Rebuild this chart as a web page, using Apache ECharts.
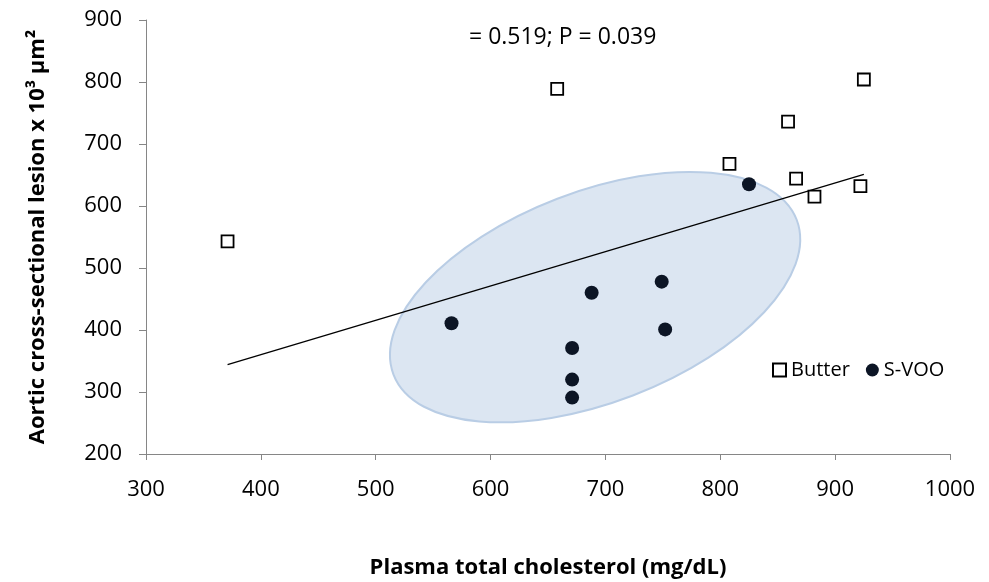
<!DOCTYPE html>
<html>
<head>
<meta charset="utf-8">
<script src="https://cdn.jsdelivr.net/npm/echarts@6/dist/echarts.min.js"></script>
<style>
  html, body { margin: 0; padding: 0; background: #fff; }
  #chart { width: 989px; height: 582px; }
</style>
</head>
<body>
<div id="chart"></div>
<script>
// Butter group (open squares)
var butterX = [371, 658, 925, 859, 808, 866, 882, 922];
var butterY = [543, 789, 804, 736, 668, 644, 615, 632];
// S-VOO group (filled circles)
var svooX = [566, 688, 749, 752, 671, 671, 671, 825];
var svooY = [411, 460, 478, 401, 371, 320, 291, 635];
// regression line end points
var trendX = [371, 925];
var trendY = [344, 651];
// shaded ellipse centre (data units)
var ellipseCentre = [691, 453];

var xTicks = [300, 1000, 100];
var yTicks = [200, 900, 100];

function pairs(xs, ys) {
  return xs.map(function (x, i) { return [x, ys[i]]; });
}

var font = '"Open Sans", "Noto Sans", sans-serif';
var chart = echarts.init(document.getElementById('chart'));

var option = {
  animation: false,
  backgroundColor: '#fff',
  textStyle: { fontFamily: font, color: '#000' },
  title: {
    text: '= 0.519; P = 0.039',
    left: 464,
    top: 21,
    textStyle: { fontFamily: font, fontSize: 23, fontWeight: 'normal', color: '#000' }
  },
  legend: {
    data: ['Butter', 'S-VOO'],
    left: 767,
    top: 355,
    itemWidth: 13,
    itemHeight: 13,
    itemGap: 16,
    textStyle: { fontFamily: font, fontSize: 20, color: '#000' }
  },
  grid: { left: 146, top: 20, right: 39, bottom: 128, outerBoundsMode: 'none' },
  xAxis: {
    type: 'value',
    min: xTicks[0], max: xTicks[1], interval: xTicks[2],
    name: 'Plasma total cholesterol (mg/dL)',
    nameLocation: 'middle',
    nameGap: 103,
    nameTextStyle: { fontFamily: font, fontSize: 22, fontWeight: 'bold', color: '#000' },
    axisLine: { lineStyle: { color: '#868686', width: 1 } },
    axisTick: { show: true, length: 6, lineStyle: { color: '#868686' } },
    axisLabel: { fontFamily: font, fontSize: 22, color: '#000', margin: 25,
      formatter: function (v) { return String(v); } },
    splitLine: { show: false }
  },
  yAxis: {
    type: 'value',
    min: yTicks[0], max: yTicks[1], interval: yTicks[2],
    name: 'Aortic cross-sectional lesion x 10³ μm²',
    nameLocation: 'middle',
    nameGap: 97,
    nameTextStyle: { fontFamily: font, fontSize: 22, fontWeight: 'bold', color: '#000' },
    axisLine: { show: true, lineStyle: { color: '#868686', width: 1 } },
    axisTick: { show: true, length: 7, lineStyle: { color: '#868686' } },
    axisLabel: { fontFamily: font, fontSize: 22, color: '#000', margin: 24,
      formatter: function (v) { return String(v); } },
    splitLine: { show: false }
  },
  series: [
    {
      name: 'ellipse',
      type: 'custom',
      silent: true,
      z: 1,
      data: [ellipseCentre],
      renderItem: function (params, api) {
        var c = api.coord([api.value(0), api.value(1)]);
        var unit = api.size([100, 100]);
        return {
          type: 'ellipse',
          x: c[0],
          y: c[1],
          rotation: 21 * Math.PI / 180,
          shape: { cx: 0, cy: 0, rx: unit[0] * 1.88, ry: unit[1] * 1.70 },
          style: { fill: '#dce6f2', stroke: '#b9cde5', lineWidth: 2 }
        };
      }
    },
    {
      name: 'trend',
      type: 'line',
      z: 3,
      symbol: 'none',
      silent: true,
      data: pairs(trendX, trendY),
      lineStyle: { color: '#000', width: 1.3 }
    },
    {
      name: 'Butter',
      type: 'scatter',
      z: 4,
      symbol: 'rect',
      symbolSize: 12,
      data: pairs(butterX, butterY),
      itemStyle: { color: '#fff', borderColor: '#000', borderWidth: 1.8, opacity: 1 }
    },
    {
      name: 'S-VOO',
      type: 'scatter',
      z: 4,
      symbol: 'circle',
      symbolSize: 14,
      data: pairs(svooX, svooY),
      itemStyle: { color: '#0c1525', opacity: 1 }
    }
  ]
};

chart.setOption(option);
</script>
</body>
</html>
